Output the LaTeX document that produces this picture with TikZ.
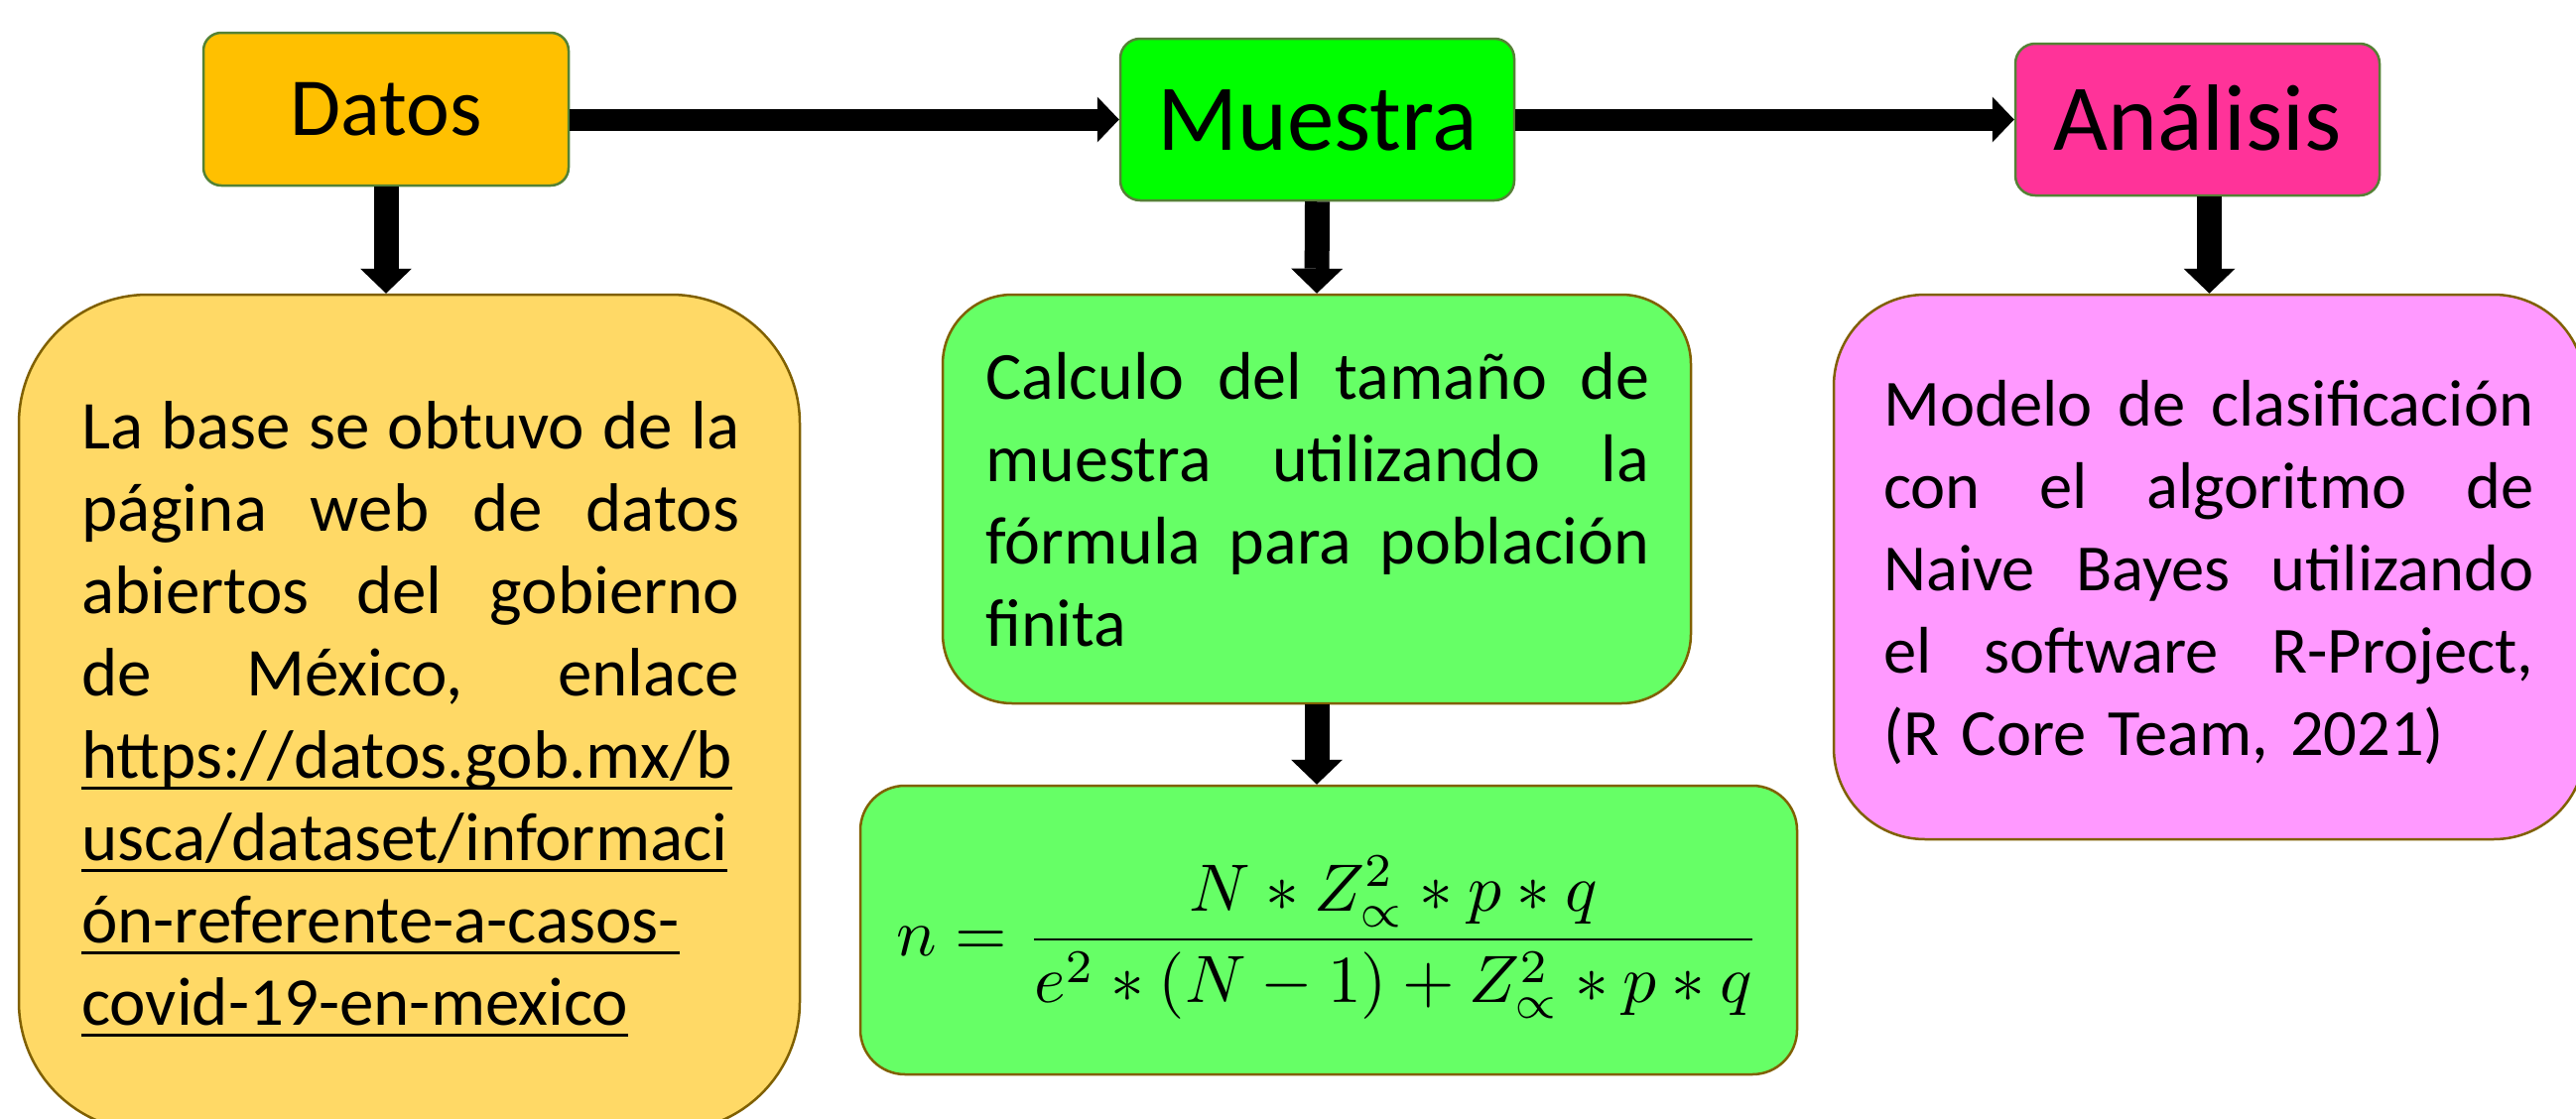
\documentclass[tikz,border=0pt]{standalone}
\usepackage{graphicx}
\usepackage{fontspec}
\setmainfont{Carlito}
\usetikzlibrary{arrows.meta}
\setlength\parindent{0pt}
\definecolor{datosfill}{HTML}{FFC000}
\definecolor{muestrafill}{HTML}{00FF00}
\definecolor{analisisfill}{HTML}{FF3399}
\definecolor{titleborder}{RGB}{84,130,53}
\definecolor{yfill}{HTML}{FFD966}
\definecolor{gfill}{HTML}{66FF66}
\definecolor{pfill}{HTML}{FF99FF}
\definecolor{boxborder}{RGB}{128,96,0}
\newcommand\jl[2]{\leavevmode\hbox to #1{#2}}
\newcommand\ulx[1]{\leavevmode\setbox0=\hbox{#1}\rlap{\rule[-0.175em]{\wd0}{0.045em}}\box0}
\begin{document}
\begin{tikzpicture}[x=1pt,y=-1pt,
  titlebox/.style={draw=titleborder, line width=2.5pt, rectangle, inner sep=0pt, align=center, text depth=0pt},
  bigbox/.style={draw=boxborder, line width=2.5pt, rectangle, inner sep=0pt},
  bodytext/.style={anchor=base west, inner sep=0pt, align=left},
  harrow/.style={line width=22pt, -{Triangle[length=22pt,width=46pt,line width=0pt]}},
  varrow/.style={line width=25pt, -{Triangle[length=25pt,width=52pt,line width=0pt]}}]
\useasboundingbox (0,0) rectangle (2596,1127);

% title boxes
\node[titlebox, fill=datosfill, rounded corners=18pt, minimum width=368pt, minimum height=154pt,
  font=\fontsize{83}{100}\selectfont, text height=53pt] (datos) at (389,110) {Datos};
\node[titlebox, fill=muestrafill, rounded corners=20pt, minimum width=397pt, minimum height=163pt,
  font=\fontsize{95}{114}\selectfont, text height=61pt] (muestra) at (1327.5,120.5) {Muestra};
\node[titlebox, fill=analisisfill, rounded corners=20pt, minimum width=367pt, minimum height=153pt,
  font=\fontsize{95}{114}\selectfont, text height=61pt] (analisis) at (2214.5,120.5) {Análisis};

% content boxes
\node[bigbox, fill=yfill, rounded corners=130pt, minimum width=787pt, minimum height=843pt] (ybox) at (412.5,718.5) {};
\node[bigbox, fill=gfill, rounded corners=70pt, minimum width=754pt, minimum height=412pt] (gbox) at (1327,503) {};
\node[bigbox, fill=gfill, rounded corners=45pt, minimum width=944pt, minimum height=291pt] (fbox) at (1339,937.5) {};
\node[bigbox, fill=pfill, rounded corners=92pt, minimum width=757pt, minimum height=549pt] (pbox) at (2226.5,571.5) {};

% texts
\node[bodytext, text width=663pt, font=\fontsize{69}{83}\selectfont] (ytext) at (82,452) {%
\jl{663pt}{La\hfill base\hfill se\hfill obtuvo\hfill de\hfill la}\\
\jl{663pt}{página\hfill web\hfill de\hfill datos}\\
\jl{663pt}{abiertos\hfill del\hfill gobierno}\\
\jl{663pt}{de\hfill México,\hfill enlace}\\
\ulx{https://datos.gob.mx/b}\\
\ulx{usca/dataset/informaci}\\
\ulx{ón-referente-a-casos-}\\
\ulx{covid-19-en-mexico}};

\node[bodytext, text width=669pt, font=\fontsize{68}{83}\selectfont] (gtext) at (993,402) {%
\jl{669pt}{Calculo\hfill del\hfill tamaño\hfill de}\\
\jl{669pt}{muestra\hfill utilizando\hfill la}\\
\jl{669pt}{fórmula\hfill para\hfill población}\\
finita};

\node[bodytext, text width=655pt, font=\fontsize{66.5}{83}\selectfont] (ptext) at (1898,429) {%
\jl{655pt}{Modelo\hfill de\hfill clasificación}\\
\jl{655pt}{con\hfill el\hfill algoritmo\hfill de}\\
\jl{655pt}{Naive\hfill Bayes\hfill utilizando}\\
\jl{655pt}{el\hfill software\hfill R-Project,}\\
(R Core Team, 2021)};

\node[inner sep=0pt] (formula) at (1339,945)
  {\scalebox{6.75}{$\displaystyle n=\frac{N*Z_{\propto}^{2}*p*q}{e^{2}*(N-1)+Z_{\propto}^{2}*p*q}$}};

% arrows
\draw[harrow] (datos.east |- muestra.west) -- (muestra.west);
\draw[harrow] (muestra.east) -- (analisis.west);
\draw[varrow] (datos.south) -- (datos.south |- ybox.north);
\draw[varrow] (muestra.south) -- (gbox.north);
\draw[varrow] (gbox.south) -- (gbox.south |- fbox.north);
\draw[varrow] (analisis.south -| pbox.north) -- (pbox.north);
\end{tikzpicture}
\end{document}
